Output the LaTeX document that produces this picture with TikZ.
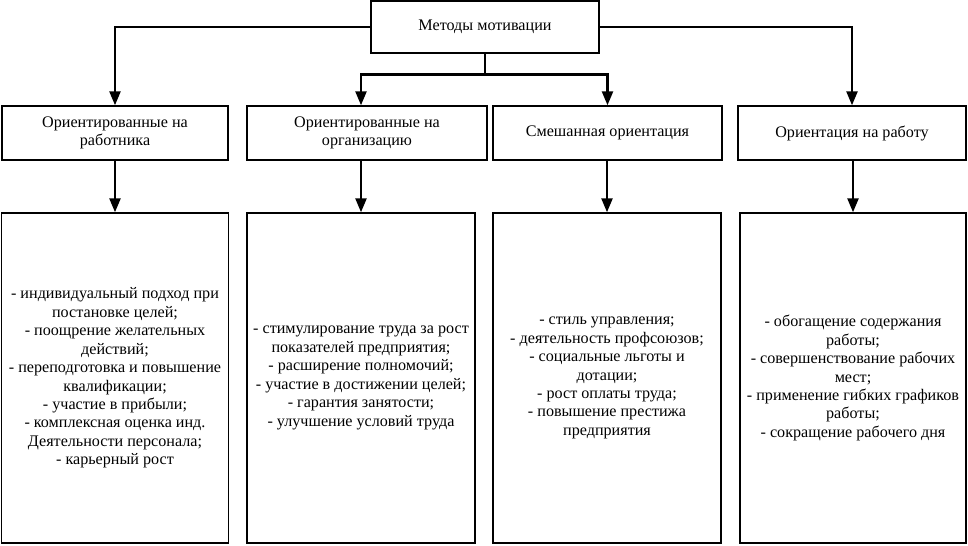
\documentclass[tikz,border=0pt]{standalone}
\usepackage{fontspec}
\setmainfont{Liberation Serif}
\usetikzlibrary{arrows.meta,positioning}
\tikzset{
  bx/.style={draw=black, line width=1.4bp, fill=white, align=center, inner sep=2bp, font=\fontsize{16.2}{18.5}\selectfont},
  hdr/.style={bx, minimum height=54bp},
  lst/.style={bx, minimum height=330bp},
  arr/.style={-{Triangle[width=11bp,length=14bp]}, line width=2.4bp},
  bus/.style={line width=2.4bp},
}
\begin{document}
\begin{tikzpicture}[x=1bp, y=-1bp]
    \useasboundingbox (0,0) rectangle (968,546);
    \node[bx, minimum width=228bp, minimum height=52bp] (top) at (485,27) {Методы мотивации};
    \node[hdr, minimum width=226bp] (wrk) at (115,133) {Ориентированные на\\работника};
    \node[hdr, minimum width=240bp] (org) at (367,133) {Ориентированные на\\организацию};
    \node[hdr, minimum width=229bp] (mix) at (607.5,133) {Смешанная ориентация};
    \node[hdr, minimum width=228bp] (job) at (852,133) {Ориентация на работу};
    \node[lst, minimum width=227bp] (wrklst) at (115,378) {- индивидуальный подход при\\постановке целей;\\- поощрение желательных\\действий;\\- переподготовка и повышение\\квалификации;\\- участие в прибыли;\\- комплексная оценка инд.\\Деятельности персонала;\\- карьерный рост};
    \node[lst, minimum width=228bp] (orglst) at (361,378) {- стимулирование труда за рост\\показателей предприятия;\\- расширение полномочий;\\- участие в достижении целей;\\- гарантия занятости;\\- улучшение условий труда};
    \node[lst, minimum width=228bp] (mixlst) at (607,378) {- стиль управления;\\- деятельность профсоюзов;\\- социальные льготы и\\дотации;\\- рост оплаты труда;\\- повышение престижа\\предприятия};
    \node[lst, minimum width=226bp] (joblst) at (853,378) {- обогащение содержания\\работы;\\- совершенствование рабочих\\мест;\\- применение гибких графиков\\работы;\\- сокращение рабочего дня};
    \draw[arr] (top.west) -| (wrk.north);
    \draw[arr] (top.east) -| (job.north);
    \draw[bus] (top.south) -- ++(0,21) coordinate (split);
    \draw[arr] (split) -| (org.north -| orglst.north);
    \draw[arr] (split) -| (mix.north);
    \draw[arr] (wrk.south -| wrklst.north) -- (wrklst.north);
    \draw[arr] (org.south -| orglst.north) -- (orglst.north);
    \draw[arr] (mix.south -| mixlst.north) -- (mixlst.north);
    \draw[arr] (job.south -| joblst.north) -- (joblst.north);
  \end{tikzpicture}
\end{document}
